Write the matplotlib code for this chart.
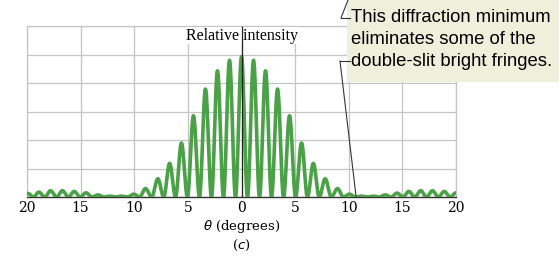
import numpy as np
import matplotlib.pyplot as plt
from matplotlib.patches import Rectangle
from matplotlib.lines import Line2D

# fringe peaks (degrees, relative intensity)
theta_peaks = [-19.9, -18.9, -17.8, -16.7, -15.6, -14.5, -13.4, -12.3, -11.2, -10.05,
               -8.95, -7.8, -6.7, -5.6, -4.48, -3.36, -2.24, -1.12, 0.0,
               1.12, 2.24, 3.36, 4.48, 5.6, 6.7, 7.8, 8.95, 10.05,
               11.2, 12.3, 13.4, 14.5, 15.6, 16.7, 17.8, 18.9, 20.0]
peak_height = [0.025, 0.035, 0.045, 0.045, 0.04, 0.03, 0.015, 0.006, 0.006, 0.02,
               0.06, 0.13, 0.24, 0.385, 0.58, 0.77, 0.90, 0.975, 1.0,
               0.975, 0.90, 0.77, 0.58, 0.385, 0.24, 0.13, 0.06, 0.02,
               0.006, 0.006, 0.015, 0.028, 0.04, 0.045, 0.045, 0.04, 0.03]

tick_pos = [-20, -15, -10, -5, 0, 5, 10, 15, 20]
tick_lab = ["20", "15", "10", "5", "0", "5", "10", "15", "20"]

note_lines = ["This diffraction minimum", "eliminates some of the",
              "double-slit bright fringes."]

# build each fringe as a cos^2 lobe between the midpoints of neighbouring peaks
tp = np.array(theta_peaks)
hp = np.array(peak_height)
mids = np.concatenate([[tp[0] - (tp[1] - tp[0]) / 2], (tp[:-1] + tp[1:]) / 2,
                       [tp[-1] + (tp[-1] - tp[-2]) / 2]])
xs, ys = [], []
for i in range(len(tp)):
    left = np.linspace(mids[i], tp[i], 20)
    right = np.linspace(tp[i], mids[i + 1], 20)[1:]
    ph_l = (left - tp[i]) / (tp[i] - mids[i]) * np.pi / 2
    ph_r = (right - tp[i]) / (mids[i + 1] - tp[i]) * np.pi / 2
    xs.append(np.concatenate([left, right]))
    ys.append(hp[i] * np.cos(np.concatenate([ph_l, ph_r])) ** 2)
x = np.concatenate(xs)
y = np.concatenate(ys)

W, H = 559, 256
fig = plt.figure(figsize=(W / 100, H / 100), dpi=100)
ax = fig.add_axes([27 / W, 59 / H, 429 / W, 171 / H])

ytop = 171 / 140.2
ax.set_xlim(-20, 20)
ax.set_ylim(0, ytop)
ax.set_xticks(tick_pos)
ax.set_xticklabels(tick_lab, family="DejaVu Serif", fontsize=10)
ax.set_yticks(np.linspace(0, ytop, 7))
ax.set_yticklabels([])
ax.tick_params(length=0, pad=3)
ax.grid(True, color="#c4c4c4", lw=0.9)
ax.set_axisbelow(True)
for s in ["left", "right", "top"]:
    ax.spines[s].set_color("#c4c4c4")
    ax.spines[s].set_linewidth(0.9)
ax.spines["bottom"].set_color("#333333")
ax.spines["bottom"].set_linewidth(1.0)

ax.plot(x, y, color="#4ba147", lw=2.6, zorder=3)

ax.text(0, 1.15, "Relative intensity", family="Liberation Serif", fontsize=11.5,
        ha="center", va="center", zorder=4,
        bbox=dict(facecolor="white", edgecolor="none", pad=0.5))
ax.plot([0, 0], [0, ytop], color="#222222", lw=0.9, zorder=6,
        solid_capstyle="butt")

ax.set_xlabel(r"$\theta$ (degrees)", family="DejaVu Serif", fontsize=9.5, labelpad=2)
fig.text(241 / W, 1 - 245 / H, "($c$)", family="DejaVu Serif", fontsize=9.5,
         ha="center", va="center")

# annotation box with leader lines
fig.patches.append(Rectangle((347 / W, 1 - 82 / H), 1, 1, transform=fig.transFigure,
                             facecolor="#eef0dc", edgecolor="none", zorder=5))
for k, line in enumerate(note_lines):
    fig.text(351 / W, 1 - (17 + 22 * k) / H, line, family="Liberation Sans",
             fontsize=13.3, ha="left", va="center", zorder=6)


def seg(p, q):
    fig.lines.append(Line2D([p[0] / W, q[0] / W], [1 - p[1] / H, 1 - q[1] / H],
                            transform=fig.transFigure, color="#333333", lw=0.8,
                            zorder=7))


seg((348, 0), (341, 18))
seg((341, 18), (350, 18))
seg((340, 61), (350, 61))
seg((340, 61), (356, 196))

fig.savefig("out.png", dpi=100)
